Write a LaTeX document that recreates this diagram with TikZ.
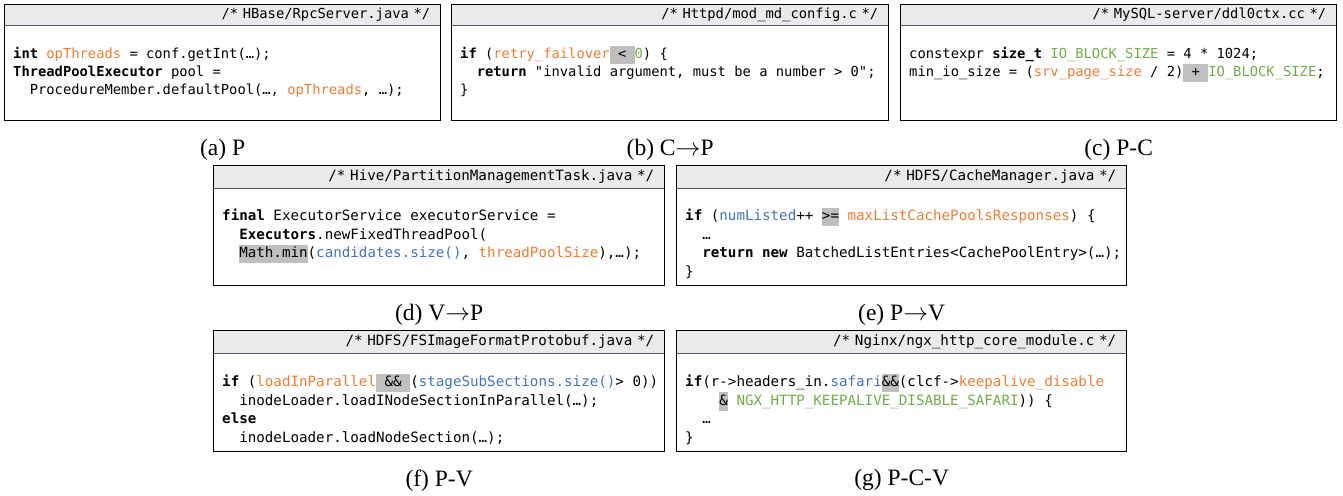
\documentclass[tikz,border=0pt]{standalone}
\usepackage{fontspec}
\setmainfont{Liberation Serif}
\setmonofont{DejaVu Sans Mono}
\usepackage{tikz}
\usetikzlibrary{positioning}

\definecolor{codeorange}{RGB}{237,125,49}
\definecolor{codegreen}{RGB}{112,173,71}
\definecolor{codeblue}{RGB}{68,114,196}
\definecolor{hlgray}{RGB}{191,191,191}
\definecolor{headgray}{RGB}{234,234,234}
\definecolor{headrule}{RGB}{80,90,105}

\newcommand{\cOr}[1]{\textcolor{codeorange}{#1}}
\newcommand{\cGr}[1]{\textcolor{codegreen}{#1}}
\newcommand{\cBl}[1]{\textcolor{codeblue}{#1}}
\newcommand{\cKw}[1]{\textbf{#1}}
\newcommand{\cHl}[1]{{\setlength{\fboxsep}{0pt}\colorbox{hlgray}{\strut#1}}}
\newcommand{\ind}[1]{\phantom{#1}}
\newcommand{\codeS}{\ttfamily\fontsize{13.8pt}{18pt}\selectfont}
\newcommand{\codeL}{\ttfamily\fontsize{14.2pt}{18.5pt}\selectfont}

\tikzstyle{codebox} = [draw, line width=1.3pt, anchor=north west, inner sep=0pt]
\tikzstyle{headbar} = [fill=headgray, anchor=north west, inner xsep=10pt, inner ysep=0pt, align=right, text height=10pt, text depth=3pt]
\tikzstyle{codetext} = [anchor=north west, align=left, inner sep=0pt]
\tikzstyle{captext} = [inner sep=0pt, font=\fontsize{23.5pt}{28pt}\selectfont]

\begin{document}
\begin{tikzpicture}[x=1pt, y=-1pt]
	\useasboundingbox (0,0) rectangle (1343,495);
	
	%Corners
	\coordinate (cornerA) at (4,4);
	\coordinate (cornerB) at (451,4);
	\coordinate (cornerC) at (900,4);
	\coordinate (cornerD) at (213,165);
	\coordinate (cornerE) at (676,165);
	\coordinate (cornerF) at (213,330);
	\coordinate (cornerG) at (676,330);
	
	%Headers
	\node [headbar, font=\codeS, text width=416pt, minimum height=21pt] (headA) at (cornerA) {/* HBase/RpcServer.java */};
	\node [headbar, font=\codeS, text width=417pt, minimum height=21pt] (headB) at (cornerB) {/* Httpd/mod\_md\_config.c */};
	\node [headbar, font=\codeS, text width=416pt, minimum height=21pt] (headC) at (cornerC) {/* MySQL-server/ddl0ctx.cc */};
	\node [headbar, font=\codeL, text width=431pt, minimum height=23pt] (headD) at (cornerD) {/* Hive/PartitionManagementTask.java */};
	\node [headbar, font=\codeL, text width=430pt, minimum height=23pt] (headE) at (cornerE) {/* HDFS/CacheManager.java */};
	\node [headbar, font=\codeL, text width=431pt, minimum height=23pt] (headF) at (cornerF) {/* HDFS/FSImageFormatProtobuf.java */};
	\node [headbar, font=\codeL, text width=430pt, minimum height=23pt] (headG) at (cornerG) {/* Nginx/ngx\_http\_core\_module.c */};
	\foreach \h in {headA,headB,headC,headD,headE,headF,headG}
		\draw [headrule, line width=0.8pt] (\h.south west) -- (\h.south east);
	
	%Boxes
	\node [codebox, minimum width=436pt, minimum height=116pt] (boxA) at (cornerA) {};
	\node [codebox, minimum width=437pt, minimum height=116pt] (boxB) at (cornerB) {};
	\node [codebox, minimum width=436pt, minimum height=116pt] (boxC) at (cornerC) {};
	\node [codebox, minimum width=451pt, minimum height=120pt] (boxD) at (cornerD) {};
	\node [codebox, minimum width=450pt, minimum height=120pt] (boxE) at (cornerE) {};
	\node [codebox, minimum width=451pt, minimum height=121pt] (boxF) at (cornerF) {};
	\node [codebox, minimum width=450pt, minimum height=121pt] (boxG) at (cornerG) {};
	
	%Code
	\node [codetext, font=\codeS] (codeA) at ([xshift=9pt, yshift=-20pt]headA.south west) {\strut\cKw{int} \cOr{opThreads} = conf.getInt(…);\\
		\cKw{ThreadPoolExecutor} pool =\\
		\ind{xx}ProcedureMember.defaultPool(…, \cOr{opThreads}, …);};
	\node [codetext, font=\codeS] (codeB) at ([xshift=9pt, yshift=-20pt]headB.south west) {\strut\cKw{if} (\cOr{retry\_failover}\cHl{ < }\cGr{0}) \{\\
		\ind{xx}\cKw{return} "invalid argument, must be a number > 0";\\
		\}};
	\node [codetext, font=\codeS] (codeC) at ([xshift=9pt, yshift=-20pt]headC.south west) {\strut constexpr \cKw{size\_t} \cGr{IO\_BLOCK\_SIZE} = 4 * 1024;\\
		min\_io\_size = (\cOr{srv\_page\_size} / 2)\cHl{ + }\cGr{IO\_BLOCK\_SIZE};};
	\node [codetext, font=\codeL] (codeD) at ([xshift=9pt, yshift=-19pt]headD.south west) {\strut\cKw{final} ExecutorService executorService =\\
		\ind{xx}\cKw{Executors}.newFixedThreadPool(\\
		\ind{xx}\cHl{Math.min}(\cBl{candidates.size()}, \cOr{threadPoolSize}),…);};
	\node [codetext, font=\codeL] (codeE) at ([xshift=9pt, yshift=-19pt]headE.south west) {\strut\cKw{if} (\cBl{numListed}++ \cHl{>=} \cOr{maxListCachePoolsResponses}) \{\\
		\ind{xx}…\\
		\ind{xx}\cKw{return} \cKw{new} BatchedListEntries<CachePoolEntry>(…);\\
		\}};
	\node [codetext, font=\codeL] (codeF) at ([xshift=9pt, yshift=-20pt]headF.south west) {\strut\cKw{if} (\cOr{loadInParallel}\cHl{ \&\& }(\cBl{stageSubSections.size()}> 0))\\
		\ind{xx}inodeLoader.loadINodeSectionInParallel(…);\\
		\cKw{else}\\
		\ind{xx}inodeLoader.loadNodeSection(…);};
	\node [codetext, font=\codeL] (codeG) at ([xshift=9pt, yshift=-20pt]headG.south west) {\strut\cKw{if}(r->headers\_in.\cBl{safari}\cHl{\&\&}(clcf->\cOr{keepalive\_disable}\\
		\ind{xxxx}\cHl{\&} \cGr{NGX\_HTTP\_KEEPALIVE\_DISABLE\_SAFARI})) \{\\
		\ind{xx}…\\
		\}};
	
	%Captions
	\node [captext, below=18pt of boxA] (capA) {(a) P};
	\node [captext, below=18pt of boxB] (capB) {(b) C$\rightarrow$P};
	\node [captext, below=18pt of boxC] (capC) {(c) P-C};
	\node [captext, below=18pt of boxD] (capD) {(d) V$\rightarrow$P};
	\node [captext, below=18pt of boxE] (capE) {(e) P$\rightarrow$V};
	\node [captext, below=17pt of boxF] (capF) {(f) P-V};
	\node [captext, below=17pt of boxG] (capG) {(g) P-C-V};
\end{tikzpicture}
\end{document}
